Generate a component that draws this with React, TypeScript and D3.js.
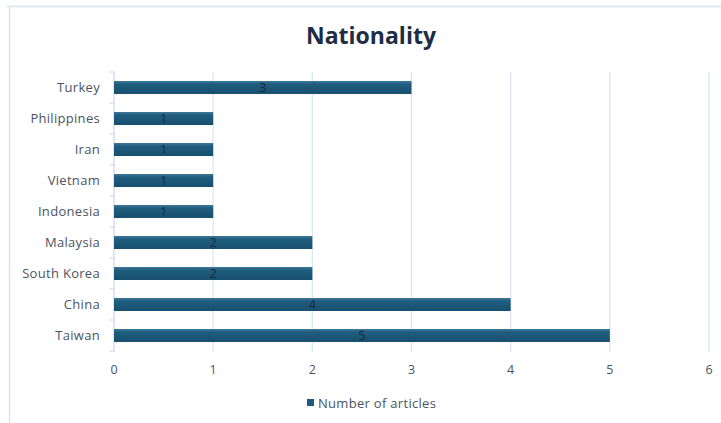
import React from "react";
import * as d3 from "d3";

const categories = ["Turkey", "Philippines", "Iran", "Vietnam", "Indonesia", "Malaysia", "South Korea", "China", "Taiwan"];
const values = [3, 1, 1, 1, 1, 2, 2, 4, 5];
const xTicks = [0, 1, 2, 3, 4, 5, 6];
const seriesName = "Number of articles";
const title = "Nationality";

export default function App() {
  const W = 721, H = 423;
  const x = d3.scaleLinear().domain([0, 6]).range([114, 709]);
  const y = d3.scaleBand().domain(categories).range([72, 351]).paddingInner(0.58).paddingOuter(0.29);
  const yb = d3.scaleBand().domain(categories).range([72, 351]);
  const font = "'Open Sans', sans-serif";
  return (
    <svg width={W} height={H} style={{ position: "fixed", left: 0, top: 0, background: "#fff" }}>
      <defs>
        <linearGradient id="barg" x1="0" y1="0" x2="0" y2="1">
          <stop offset="0" stopColor="#3f7797" />
          <stop offset="0.25" stopColor="#1f5d7f" />
          <stop offset="1" stopColor="#184f6e" />
        </linearGradient>
      </defs>
      <rect x={0} y={0} width={W} height={H} fill="#fff" />
      <line x1={7} x2={W} y1={6.5} y2={6.5} stroke="#d6e4f4" strokeWidth={1.5} />
      <line x1={9.5} x2={9.5} y1={6} y2={H} stroke="#d6e4f4" strokeWidth={1.5} />
      <text x={371} y={44} textAnchor="middle" fontFamily={font} fontWeight={700} fontSize={23} fill="#1c2d45">{title}</text>
      {xTicks.slice(1).map(t => (
        <line key={t} x1={x(t)} x2={x(t)} y1={72} y2={352} stroke="#dbe6f3" strokeWidth={1.3} />
      ))}
      <line x1={x(0)} x2={x(0)} y1={72} y2={352} stroke="#cddcee" strokeWidth={1.3} />
      {categories.map(c => (
        <line key={c} x1={x(0) - 4} x2={x(0)} y1={yb(c)!} y2={yb(c)!} stroke="#cddcee" strokeWidth={1.2} />
      ))}
      <line x1={x(0) - 4} x2={x(0)} y1={351} y2={351} stroke="#cddcee" strokeWidth={1.2} />
      {categories.map((c, i) => (
        <g key={c}>
          <rect x={x(0)} y={y(c)!} width={x(values[i]) - x(0)} height={y.bandwidth()} fill="url(#barg)" />
          <text x={(x(0) + x(values[i])) / 2} y={y(c)! + y.bandwidth() / 2 + 4.5} textAnchor="middle" fontFamily={font} fontSize={12.5} fill="#1a2a38">{values[i]}</text>
          <text x={100} y={yb(c)! + yb.bandwidth() / 2 + 4.5} textAnchor="end" fontFamily={font} fontSize={13} letterSpacing={0.3} fill="#4a5461">{c}</text>
        </g>
      ))}
      {xTicks.map(t => (
        <text key={t} x={x(t)} y={374} textAnchor="middle" fontFamily={font} fontSize={12.5} fill="#4a5461">{t}</text>
      ))}
      <rect x={307} y={399} width={7} height={7} fill="#1d5b7d" />
      <text x={318} y={408} fontFamily={font} fontSize={13} letterSpacing={0.3} fill="#4a5461">{seriesName}</text>
    </svg>
  );
}
